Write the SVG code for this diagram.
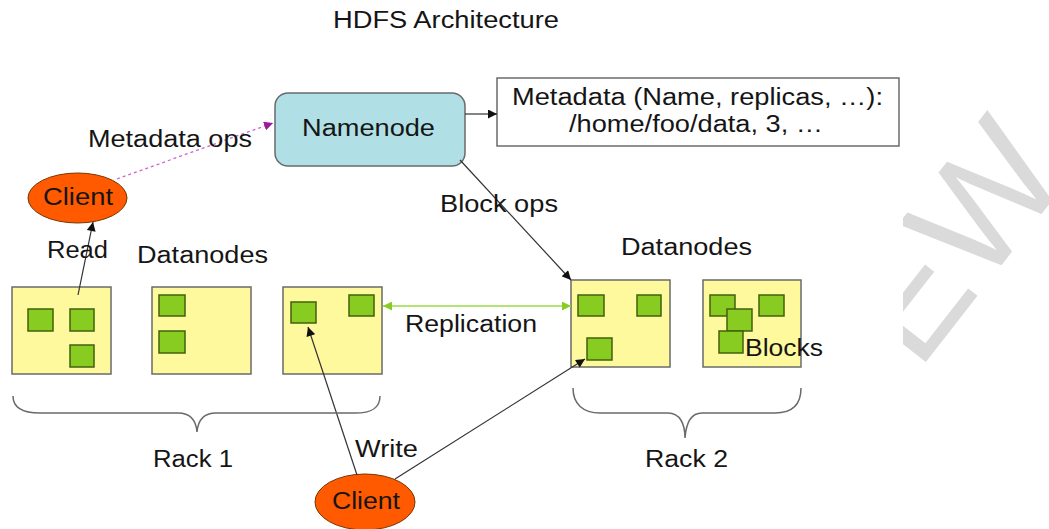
<svg xmlns="http://www.w3.org/2000/svg" width="1049" height="529" viewBox="0 0 1049 529">
<style>
text{font-family:"Liberation Sans",Arial,sans-serif;fill:#151515;font-size:23px}
.dn{fill:#fdf99c;stroke:#6a6a6a;stroke-width:1.5}
.blk{fill:#88cc22;stroke:#43600c;stroke-width:1.5}
.client{fill:#ff5a00;stroke:#7a3300;stroke-width:1}
.line{fill:none;stroke:#333;stroke-width:1.2}
.brace{fill:none;stroke:#6a6a6a;stroke-width:1.5}
.wm{font-size:155px;fill:#dadada;font-family:"Liberation Sans",Arial,sans-serif}
</style>
<defs>
<marker id="ah" viewBox="0 0 10 10" refX="10" refY="5" markerWidth="10" markerHeight="9" markerUnits="userSpaceOnUse" orient="auto"><path d="M0,0 L10,5 L0,10 z" fill="#111"/></marker>
<marker id="am" viewBox="0 0 10 10" refX="10" refY="5" markerWidth="9" markerHeight="9" markerUnits="userSpaceOnUse" orient="auto"><path d="M0,0 L10,5 L0,10 z" fill="#9a1a9a"/></marker>
<marker id="ag" viewBox="0 0 10 10" refX="10" refY="5" markerWidth="9" markerHeight="9" markerUnits="userSpaceOnUse" orient="auto-start-reverse"><path d="M0,0 L10,5 L0,10 z" fill="#88cc22"/></marker>
<clipPath id="wmclip"><rect x="903" y="0" width="146" height="529"/></clipPath>
</defs>
<rect width="1049" height="529" fill="#fff"/>
<g clip-path="url(#wmclip)">
<text class="wm" transform="translate(918,372) rotate(-52)">EW</text>
</g>
<text x="333" y="28" font-size="22" textLength="226" lengthAdjust="spacingAndGlyphs">HDFS Architecture</text>

<g id="namenode">
<rect x="275" y="93" width="190" height="73" rx="13" fill="#b0e0e6" stroke="#6a6a6a" stroke-width="1.5"/>
<text x="302" y="136" font-size="25" textLength="133" lengthAdjust="spacingAndGlyphs">Namenode</text>
</g>

<g id="metadata">
<rect x="497" y="78" width="402" height="68" fill="#fff" stroke="#555" stroke-width="1.3"/>
<text x="512" y="105" textLength="371" lengthAdjust="spacingAndGlyphs">Metadata (Name, replicas, …):</text>
<text x="569" y="132" textLength="254" lengthAdjust="spacingAndGlyphs">/home/foo/data, 3, …</text>
</g>

<g id="client-read">
<ellipse class="client" cx="77.5" cy="198" rx="49.5" ry="25"/>
<text x="43" y="205" textLength="70" lengthAdjust="spacingAndGlyphs">Client</text>
</g>

<g id="client-write">
<ellipse class="client" cx="365" cy="502" rx="50" ry="28"/>
<text x="332" y="509" textLength="68" lengthAdjust="spacingAndGlyphs">Client</text>
</g>

<g id="datanode1">
<rect class="dn" x="12" y="287" width="99" height="87"/>
<rect class="blk" x="28" y="309" width="25" height="22"/>
<rect class="blk" x="70" y="309" width="24" height="22"/>
<rect class="blk" x="70" y="345" width="24" height="22"/>
</g>
<g id="datanode2">
<rect class="dn" x="152" y="287" width="99" height="87"/>
<rect class="blk" x="159" y="295" width="26" height="21"/>
<rect class="blk" x="159" y="331" width="26" height="22"/>
</g>
<g id="datanode3">
<rect class="dn" x="283" y="287" width="99" height="87"/>
<rect class="blk" x="291" y="302" width="25" height="21"/>
<rect class="blk" x="349" y="295" width="25" height="21"/>
</g>
<g id="datanode4">
<rect class="dn" x="571" y="280" width="99" height="87"/>
<rect class="blk" x="578" y="295" width="26" height="21"/>
<rect class="blk" x="637" y="295" width="24" height="21"/>
<rect class="blk" x="587" y="338" width="25" height="22"/>
</g>
<g id="datanode5">
<rect class="dn" x="703" y="280" width="98" height="87"/>
<rect class="blk" x="710" y="295" width="25" height="21"/>
<rect class="blk" x="759" y="295" width="25" height="21"/>
<rect class="blk" x="727" y="309" width="25" height="22"/>
<rect class="blk" x="719" y="331" width="24" height="22"/>
</g>

<g id="connectors">
<line class="line" x1="465" y1="114" x2="497" y2="114" marker-end="url(#ah)"/>
<line x1="117" y1="179" x2="273" y2="123" stroke="#cc66cc" stroke-width="1.3" stroke-dasharray="3,3" marker-end="url(#am)"/>
<line class="line" x1="78" y1="295" x2="93" y2="222" marker-end="url(#ah)"/>
<line class="line" x1="460" y1="160" x2="571" y2="280" marker-end="url(#ah)"/>
<line x1="383" y1="306" x2="571" y2="306" stroke="#99dd44" stroke-width="1.5" marker-start="url(#ag)" marker-end="url(#ag)"/>
<line class="line" x1="357" y1="475" x2="308" y2="327" marker-end="url(#ah)"/>
<line class="line" x1="395" y1="479" x2="585" y2="359" marker-end="url(#ah)"/>
</g>

<g id="labels">
<text x="88" y="147" textLength="164" lengthAdjust="spacingAndGlyphs">Metadata ops</text>
<text x="47" y="258" textLength="61" lengthAdjust="spacingAndGlyphs">Read</text>
<text x="137" y="263" textLength="131" lengthAdjust="spacingAndGlyphs">Datanodes</text>
<text x="440" y="212" textLength="118" lengthAdjust="spacingAndGlyphs">Block ops</text>
<text x="621" y="255" textLength="131" lengthAdjust="spacingAndGlyphs">Datanodes</text>
<text x="405" y="332" textLength="132" lengthAdjust="spacingAndGlyphs">Replication</text>
<text x="745" y="356" textLength="78" lengthAdjust="spacingAndGlyphs">Blocks</text>
<text x="355" y="457" textLength="63" lengthAdjust="spacingAndGlyphs">Write</text>
</g>

<g id="rack1">
<path class="brace" d="M13,396 C13,408 22,413 40,413 L178,413 C190,413 196,420 197,432 C198,420 204,413 216,413 L355,413 C372,413 380,408 380,396"/>
<text x="153" y="467" textLength="80" lengthAdjust="spacingAndGlyphs">Rack 1</text>
</g>
<g id="rack2">
<path class="brace" d="M573,388 C573,404 583,413 600,413 L668,413 C680,413 685,424 685,438 C686,424 690,413 702,413 L775,413 C793,413 801,404 801,388"/>
<text x="645" y="467" textLength="83" lengthAdjust="spacingAndGlyphs">Rack 2</text>
</g>
</svg>
